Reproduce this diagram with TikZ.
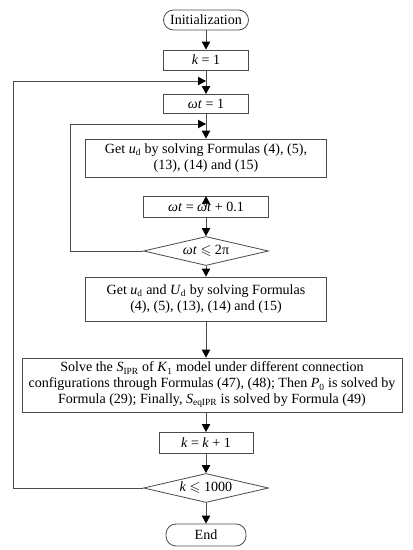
\documentclass[tikz,border=0pt]{standalone}
\usepackage{fontspec}
\usepackage{amssymb}
\setmainfont{Liberation Serif}
\usetikzlibrary{arrows.meta,shapes.geometric,calc}
\tikzstyle{block} = [rectangle, draw=black!70, align=center, inner sep=1pt]
\tikzstyle{term} = [rectangle, draw=black!70, rounded corners=0.3cm,
    minimum width=2.55cm, minimum height=0.6cm]
\tikzstyle{decision} = [diamond, draw=black!70, shape aspect=4.3, inner sep=0pt,
    minimum width=3.75cm, minimum height=0.87cm]

\begin{document}
\begin{tikzpicture}[x=0.03cm,y=-0.03cm,line width=0.7pt,draw=black!70,
                    font=\fontsize{12}{13.6}\selectfont,
                    >={Triangle[length=2.4mm,width=2.5mm,color=black]}]
  \useasboundingbox (0,0) rectangle (413,550);

  \node[term]     (init) at (206,20)  {Initialization};
  \node[block,minimum width=2.55cm,minimum height=0.6cm]  (k1)   at (206,60)  {\textit{k} = 1};
  \node[block,minimum width=2.55cm,minimum height=0.57cm] (wt1)  at (206,104) {\textit{ωt} = 1};
  \node[block,minimum width=7.23cm,minimum height=1.14cm] (getud) at (206,158)
       {Get \textit{u}\textsubscript{d} by solving Formulas (4), (5),\\ (13), (14) and (15)};
  \node[block,minimum width=3.75cm,minimum height=0.63cm] (upd)  at (206,207) {\textit{ωt} = \textit{ωt} + 0.1};
  \node[decision] (wtle) at (206,251) {\textit{ωt} $\leqslant$ 2π};
  \node[block,minimum width=7.23cm,minimum height=1.32cm] (getUd) at (206,299)
       {Get \textit{u}\textsubscript{d} and \textit{U}\textsubscript{d} by solving Formulas\\ (4), (5), (13), (14) and (15)};
  \node[block,minimum width=11.4cm,minimum height=1.62cm] (solve) at (212,385)
       {Solve the \textit{S}\textsubscript{IPR} of \textit{K}\textsubscript{1} model under different connection\\
        configurations through Formulas (47), (48); Then \textit{P}\textsubscript{0} is solved by\\
        Formula (29); Finally, \textit{S}\textsubscript{eqIPR} is solved by Formula (49)};
  \node[block,minimum width=2.82cm,minimum height=0.63cm] (kinc) at (206,443) {\textit{k} = \textit{k} + 1};
  \node[decision] (kle) at (206,488) {\textit{k} $\leqslant$ 1000};
  \node[term,minimum width=2.4cm,minimum height=0.66cm] (stop) at (206,535) {End};

  % loop joints
  \coordinate (j1) at (206,81);
  \coordinate (j2) at (206,124);
  \coordinate (o1) at (13,81);
  \coordinate (i1) at (70,124);

  \path[->] (init)  edge (k1)
            (k1)    edge (wt1)
            (wt1)   edge (getud)
            (upd)   edge (wtle)
            (wtle)  edge (getUd)
            (getUd) edge (solve.north -| getUd.south)
            (solve.south -| kinc.north) edge (kinc)
            (kinc)  edge (kle)
            (kle)   edge (stop);
  \draw[->] (upd.center) -- (upd.north);

  \draw[->] (kle.west) -| (o1) -- (j1);
  \draw[->] (wtle.west) -| (i1) -- (j2);
\end{tikzpicture}
\end{document}
